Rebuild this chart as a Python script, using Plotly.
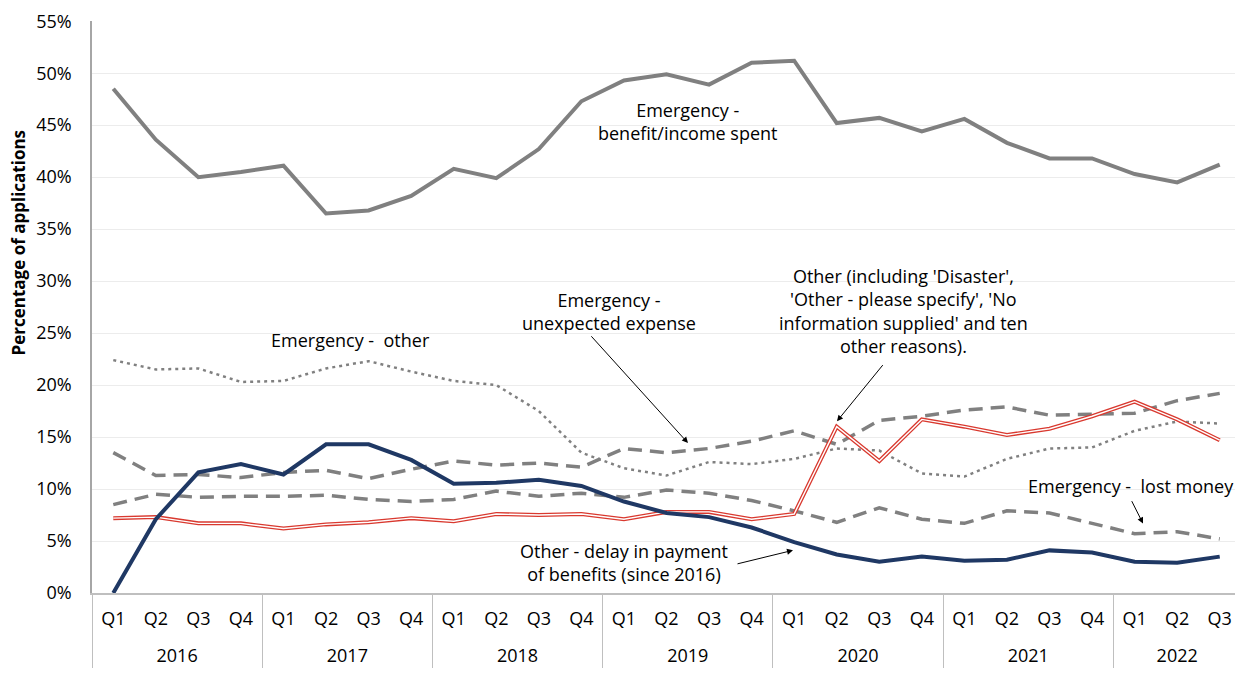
import plotly.graph_objects as go

years = ["2016"]*4 + ["2017"]*4 + ["2018"]*4 + ["2019"]*4 + ["2020"]*4 + ["2021"]*4 + ["2022"]*3
quarters = ["Q1", "Q2", "Q3", "Q4"]*6 + ["Q1", "Q2", "Q3"]

benefit_spent = [48.5, 43.6, 40.0, 40.5, 41.1, 36.5, 36.8, 38.2, 40.8, 39.9, 42.7, 47.3,
                 49.3, 49.9, 48.9, 51.0, 51.2, 45.2, 45.7, 44.4, 45.6, 43.3, 41.8, 41.8,
                 40.3, 39.5, 41.2]
emerg_other = [22.4, 21.5, 21.6, 20.3, 20.4, 21.6, 22.3, 21.3, 20.4, 20.0, 17.5, 13.5,
               12.0, 11.3, 12.6, 12.4, 12.9, 13.9, 13.7, 11.5, 11.2, 12.9, 13.9, 14.0,
               15.6, 16.5, 16.3]
unexpected = [13.5, 11.3, 11.4, 11.1, 11.6, 11.8, 11.0, 11.9, 12.7, 12.3, 12.5, 12.1,
              13.9, 13.5, 13.9, 14.6, 15.6, 14.3, 16.6, 17.0, 17.6, 17.9, 17.1, 17.2,
              17.3, 18.5, 19.2]
lost_money = [8.5, 9.5, 9.2, 9.3, 9.3, 9.4, 9.0, 8.8, 9.0, 9.8, 9.3, 9.6,
              9.2, 9.9, 9.6, 8.9, 7.9, 6.8, 8.2, 7.1, 6.7, 7.9, 7.7, 6.7,
              5.7, 5.9, 5.2]
other_incl = [7.2, 7.3, 6.7, 6.7, 6.2, 6.6, 6.8, 7.2, 6.9, 7.6, 7.5, 7.6,
              7.1, 7.8, 7.8, 7.1, 7.6, 16.0, 12.7, 16.7, 16.0, 15.2, 15.8, 17.0,
              18.4, 16.7, 14.7]
delay_payment = [0.0, 7.1, 11.6, 12.4, 11.4, 14.3, 14.3, 12.8, 10.5, 10.6, 10.9, 10.3,
                 8.8, 7.7, 7.3, 6.3, 4.9, 3.7, 3.0, 3.5, 3.1, 3.2, 4.1, 3.9,
                 3.0, 2.9, 3.5]

# quarter labels get a small blank second line so the year row sits lower
quarter_labels = [q + "<br><span style='font-size:5px;color:white'>.</span>" for q in quarters]
x = [years, quarter_labels]
GRAY = "#808080"
FAM = "Open Sans, sans-serif"

fig = go.Figure()
fig.add_trace(go.Scatter(x=x, y=benefit_spent, mode="lines", line=dict(color=GRAY, width=4), name="Emergency - benefit/income spent"))
fig.add_trace(go.Scatter(x=x, y=emerg_other, mode="lines", line=dict(color=GRAY, width=2.5, dash="3px,4px"), name="Emergency - other"))
fig.add_trace(go.Scatter(x=x, y=unexpected, mode="lines", line=dict(color=GRAY, width=3.5, dash="14px,8px"), name="Emergency - unexpected expense"))
fig.add_trace(go.Scatter(x=x, y=lost_money, mode="lines", line=dict(color=GRAY, width=3.5, dash="14px,8px"), name="Emergency - lost money"))
fig.add_trace(go.Scatter(x=x, y=other_incl, mode="lines", line=dict(color="#d9392f", width=4), name="Other (including ...)"))
fig.add_trace(go.Scatter(x=x, y=other_incl, mode="lines", line=dict(color="white", width=1.4), showlegend=False, hoverinfo="skip"))
fig.add_trace(go.Scatter(x=x, y=delay_payment, mode="lines", line=dict(color="#1f3864", width=4), name="Other - delay in payment of benefits"))

afont = dict(family=FAM, size=18, color="black")

# page has an 8px body margin; plot area spans page x 92..1241, y 21..593
L, R, T, B = 92, 1241, 21, 593
# reference pixel frame used when reading positions (y 17..593)
RT = 17


def px(xp):
    return (xp - L) / (R - L)


def py(yp):
    return (B - yp) / (B - RT)


ann = [
    (688, 118, "Emergency -<br>benefit/income spent"),
    (350, 338, "Emergency -  other"),
    (609, 310, "Emergency -<br>unexpected expense"),
    (903, 309, "Other (including 'Disaster',<br>'Other - please specify', 'No<br>information supplied' and ten<br>other reasons)."),
    (1131, 485, "Emergency -  lost money"),
    (624, 562, "Other - delay in payment<br>of benefits (since 2016)"),
]
annotations = []
for xp, yp, t in ann:
    annotations.append(dict(xref="x domain", yref="y domain", x=px(xp), y=py(yp), text=t,
                            xanchor="center", yanchor="middle",
                            showarrow=False, font=afont, align="center"))

# y-axis title
annotations.append(dict(xref="x domain", yref="y domain", x=px(18), y=py(240), xanchor="center", yanchor="middle",
                        text="<b>Percentage of applications</b>", textangle=-90, showarrow=False,
                        font=dict(family=FAM, size=17, color="black")))


def arrow(x0, y0, x1, y1):
    return dict(xref="x domain", yref="y domain", axref="x domain", ayref="y domain",
                x=px(x1), y=py(y1), ax=px(x0), ay=py(y0),
                text="", showarrow=True, arrowhead=2, arrowsize=1.2, arrowwidth=1, arrowcolor="black")


annotations += [
    arrow(590, 333, 688, 442),
    arrow(884, 362, 837, 420),
    arrow(1131, 499, 1143, 523),
    arrow(736, 564, 793, 550),
]

fig.update_layout(
    width=1243 - 8, height=675 - 8,
    margin=dict(l=L - 8, r=1243 - R, t=T - 8, b=675 - B),
    paper_bgcolor="white", plot_bgcolor="white",
    showlegend=False,
    font=dict(family=FAM, size=18, color="black"),
    annotations=annotations,
    xaxis=dict(type="multicategory", range=[-0.5, 26.5], automargin=False,
               showline=True, linecolor="#bfbfbf", linewidth=2, mirror=False,
               showdividers=True, dividercolor="#bfbfbf", dividerwidth=1.2,
               ticklabelstandoff=8,
               tickfont=dict(family=FAM, size=18), ticks="", showgrid=False),
    yaxis=dict(range=[0, 55.02], tickmode="linear", tick0=0, dtick=5, ticksuffix="%",
               showgrid=True, gridcolor="#ececec", ticklabeloverflow="allow",
               showline=True, linecolor="#a6a6a6", linewidth=1.5, zeroline=False,
               automargin=False, ticklabelstandoff=15,
               tickfont=dict(family=FAM, size=18)),
)

fig.write_html("out.html")
